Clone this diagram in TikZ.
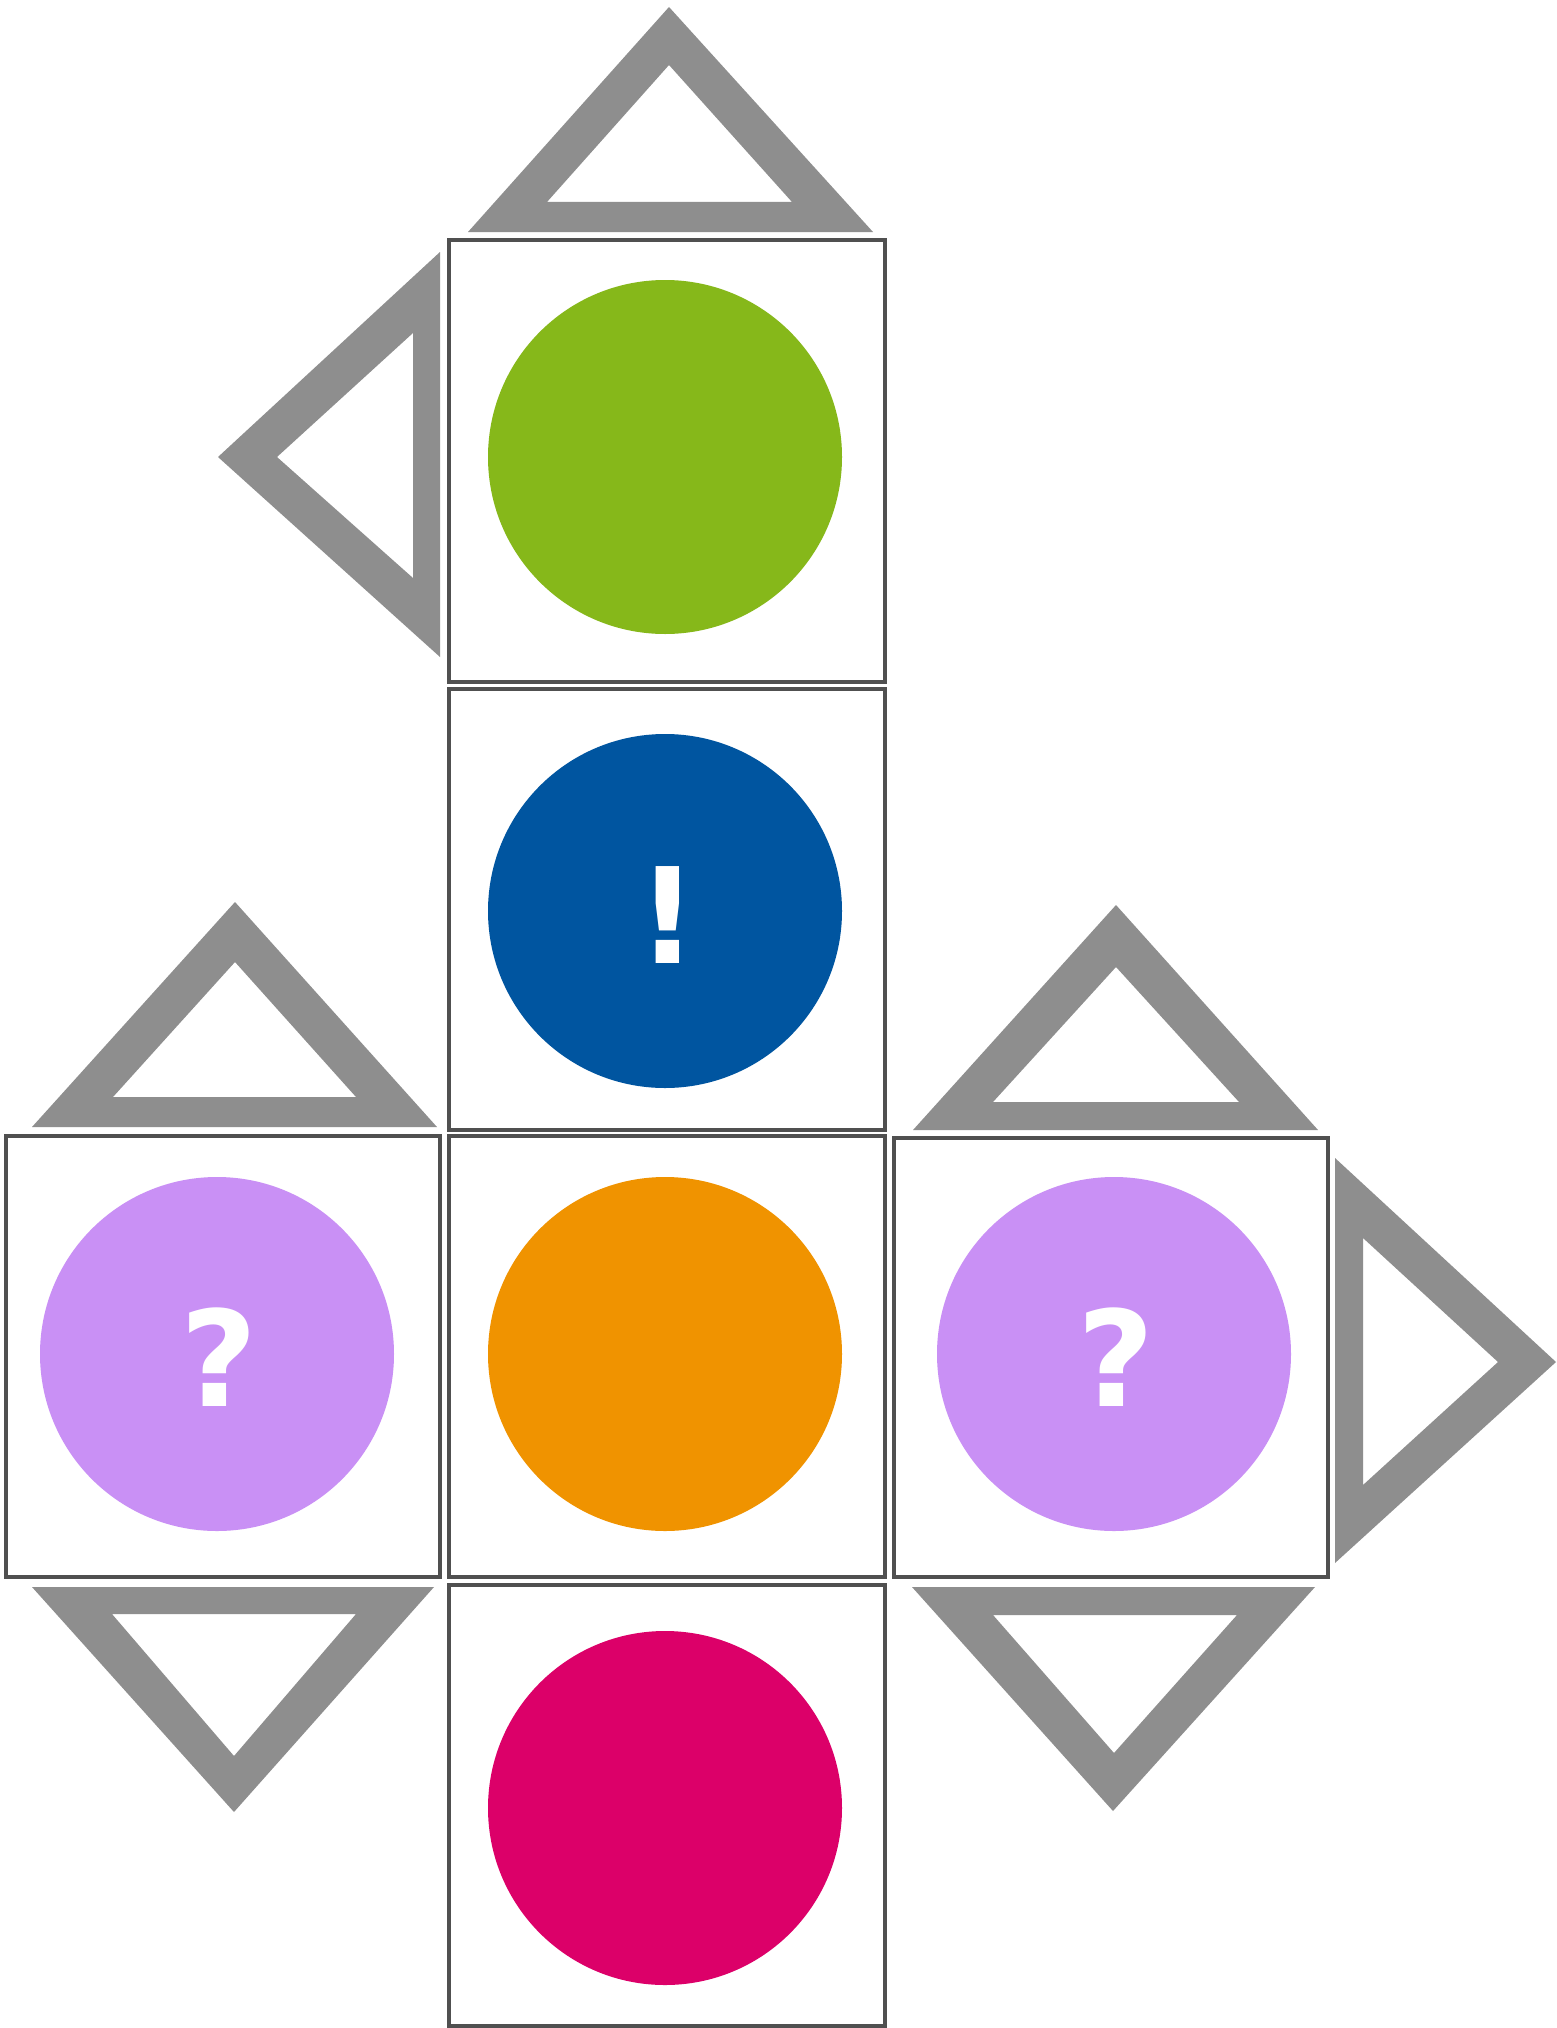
\documentclass[tikz,border=0pt]{standalone}
\usepackage{fontspec}
\newfontfamily\markfont{DejaVu Sans}
\definecolor{trigray}{RGB}{142,142,142}
\definecolor{sqline}{RGB}{80,80,80}
\definecolor{cgreen}{RGB}{134,184,26}
\definecolor{cblue}{RGB}{0,85,160}
\definecolor{corange}{RGB}{240,147,0}
\definecolor{cmagenta}{RGB}{220,0,105}
\definecolor{clavender}{RGB}{201,144,245}
\begin{document}
\begin{tikzpicture}[x=1pt,y=-1pt,
  sqbox/.style={draw=sqline, line width=4pt, fill=white},
  trishape/.style={fill=trigray, even odd rule},
  disc/.style={circle, minimum size=354pt, inner sep=0pt, draw=none},
  glyph/.style={text=white, font=\markfont\bfseries\fontsize{133}{133}\selectfont, inner sep=0pt}]
\useasboundingbox (0,0) rectangle (1556,2028);
\fill[white] (0,0) rectangle (1556,2028);
% triangles
\fill[trishape] (468,232) -- (669,7) -- (873,232) -- cycle (547,202) -- (669,65) -- (792,202) -- cycle;
\fill[trishape] (440,252) -- (218,457) -- (440,657) -- cycle (413,333) -- (277,457) -- (413,578) -- cycle;
\fill[trishape] (32,1127) -- (235,902) -- (437,1127) -- cycle (113,1097) -- (235,962) -- (356,1097) -- cycle;
\fill[trishape] (913,1130) -- (1116,905) -- (1318,1130) -- cycle (993,1102) -- (1116,967) -- (1239,1102) -- cycle;
\fill[trishape] (1335,1158) -- (1556,1362) -- (1335,1563) -- cycle (1363,1238) -- (1498,1362) -- (1363,1485) -- cycle;
\fill[trishape] (32,1587) -- (434,1587) -- (234,1812) -- cycle (112,1614) -- (356,1614) -- (234,1756) -- cycle;
\fill[trishape] (912,1587) -- (1315,1587) -- (1113,1811) -- cycle (993,1615) -- (1237,1615) -- (1114,1753) -- cycle;
% squares
\draw[sqbox] (449,240) rectangle (885,682);
\draw[sqbox] (449,689) rectangle (885,1130);
\draw[sqbox] (6,1136) rectangle (440,1577);
\draw[sqbox] (449,1136) rectangle (885,1577);
\draw[sqbox] (894,1138) rectangle (1328,1577);
\draw[sqbox] (449,1585) rectangle (885,2026);
% discs
\node[disc, fill=cgreen] (green) at (665,457) {};
\node[disc, fill=cblue] (blue) at (665,911) {};
\node[disc, fill=clavender] (lavl) at (217,1354) {};
\node[disc, fill=corange] (orange) at (665,1354) {};
\node[disc, fill=clavender] (lavr) at (1114,1354) {};
\node[disc, fill=cmagenta] (magenta) at (665,1808) {};
% marks
\node[glyph] (excl) at (668,915) {!};
\node[glyph] (qleft) at (219,1357) {?};
\node[glyph] (qright) at (1116,1357) {?};
\end{tikzpicture}
\end{document}
